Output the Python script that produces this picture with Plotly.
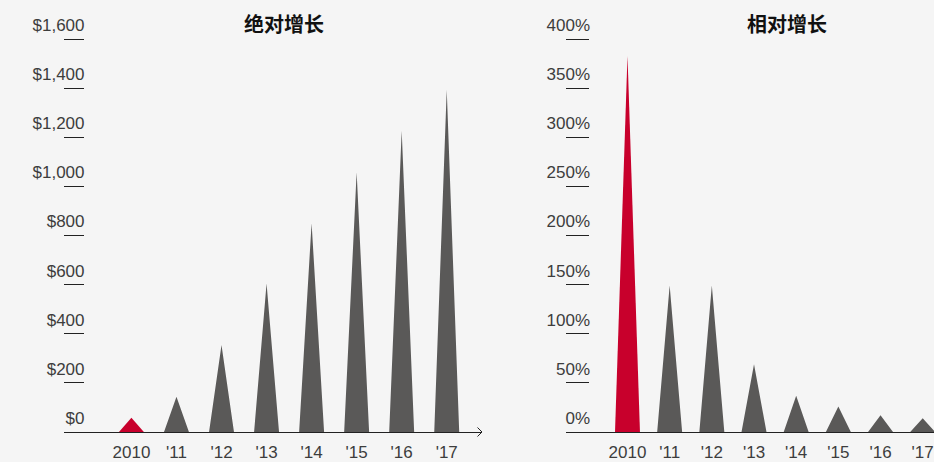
import plotly.graph_objects as go

# Yearly values
years = ["2010", "'11", "'12", "'13", "'14", "'15", "'16", "'17"]
absolute_growth = [58, 144, 354, 605, 850, 1057, 1226, 1393]      # USD
relative_growth = [383, 149, 149, 69, 37, 26, 17, 14]             # percent
highlight_index = 0

abs_ticks = [0, 200, 400, 600, 800, 1000, 1200, 1400, 1600]
rel_ticks = [0, 50, 100, 150, 200, 250, 300, 350, 400]
titles = ["绝对增长", "相对增长"]

W, H = 934, 462
BG = "#f5f5f5"
GRAY = "#5a5958"
RED = "#c8002c"
TEXT = "#3d3d3d"
NUM_FONT = "Liberation Sans, Arial, sans-serif"
CJK_FONT = "Noto Sans CJK SC, sans-serif"

# plot area: zero at y=432px, 1600 / 400% at y=39px; keep some headroom above
BASE_PX, TOP_TICK_PX, AREA_TOP_PX = 432, 39, 30
headroom = (BASE_PX - AREA_TOP_PX) / (BASE_PX - TOP_TICK_PX)


def px_x(p):
    return p / W


def px_y(p):
    return 1 - p / H


def spikes(values, half_width, pick):
    """Triangle outlines (base on zero, apex at the value) separated by gaps."""
    xs, ys = [], []
    for i, v in enumerate(values):
        if pick(i):
            xs += [i - half_width, i, i + half_width, None]
            ys += [0, v, 0, None]
    return xs, ys


fig = go.Figure()

panels = [
    dict(values=absolute_growth, xa="x", ya="y", hw=0.277),
    dict(values=relative_growth, xa="x2", ya="y2", hw=0.296),
]
for p in panels:
    for color, pick in [(GRAY, lambda i: i != highlight_index),
                        (RED, lambda i: i == highlight_index)]:
        xs, ys = spikes(p["values"], p["hw"], pick)
        fig.add_trace(go.Scatter(
            x=xs, y=ys, xaxis=p["xa"], yaxis=p["ya"],
            mode="lines", fill="toself", fillcolor=color,
            line=dict(width=0, color=color), hoverinfo="skip",
            showlegend=False, cliponaxis=False,
        ))

y_domain = [px_y(BASE_PX), px_y(AREA_TOP_PX)]
common_x = dict(
    tickmode="array", tickvals=list(range(len(years))), ticktext=years,
    showgrid=False, zeroline=False, showline=True, linecolor="#222",
    linewidth=1, ticks="", automargin=False, ticklabelstandoff=5,
    tickfont=dict(family=NUM_FONT, size=17, color=TEXT),
    fixedrange=True,
)
common_y = dict(
    showgrid=False, zeroline=False, showline=False, automargin=False,
    ticks="inside", tickcolor="#222", tickwidth=1,
    ticklabelshift=-14,
    tickfont=dict(family=NUM_FONT, size=17, color=TEXT),
    fixedrange=True,
)

fig.update_layout(
    width=W, height=H, autosize=False,
    margin=dict(l=0, r=0, t=0, b=0, pad=0),
    paper_bgcolor=BG, plot_bgcolor=BG,
    xaxis=dict(common_x, domain=[px_x(63.5), px_x(482)],
               range=[-1.508, 7.783], anchor="y"),
    yaxis=dict(common_y, domain=y_domain, range=[0, abs_ticks[-1] * headroom],
               anchor="x", tickmode="array", tickvals=abs_ticks,
               ticktext=["$" + f"{v:,}" for v in abs_ticks],
               ticklen=20, ticklabelstandoff=-22),
    xaxis2=dict(common_x, domain=[px_x(566), 1.0],
                range=[-1.458, 7.268], anchor="y2"),
    yaxis2=dict(common_y, domain=y_domain, range=[0, rel_ticks[-1] * headroom],
                anchor="x2", tickmode="array", tickvals=rel_ticks,
                ticktext=[f"{v}%" for v in rel_ticks],
                ticklen=23, ticklabelstandoff=-25),
    annotations=[
        dict(text=f"<b>{titles[0]}</b>", x=px_x(284), y=px_y(23),
             xref="paper", yref="paper", showarrow=False,
             xanchor="center", yanchor="middle",
             font=dict(family=CJK_FONT, size=20, color="#111")),
        dict(text=f"<b>{titles[1]}</b>", x=px_x(787), y=px_y(23),
             xref="paper", yref="paper", showarrow=False,
             xanchor="center", yanchor="middle",
             font=dict(family=CJK_FONT, size=20, color="#111")),
    ],
    shapes=[
        # open arrowhead closing the left baseline
        dict(type="path", xref="paper", yref="paper",
             path=(f"M {px_x(477.5)},{px_y(427.5)} L {px_x(482)},{px_y(432)} "
                   f"L {px_x(477.5)},{px_y(436.5)}"),
             line=dict(color="#222", width=1)),
    ],
)

fig.write_html("out.html", config={"displayModeBar": False})
